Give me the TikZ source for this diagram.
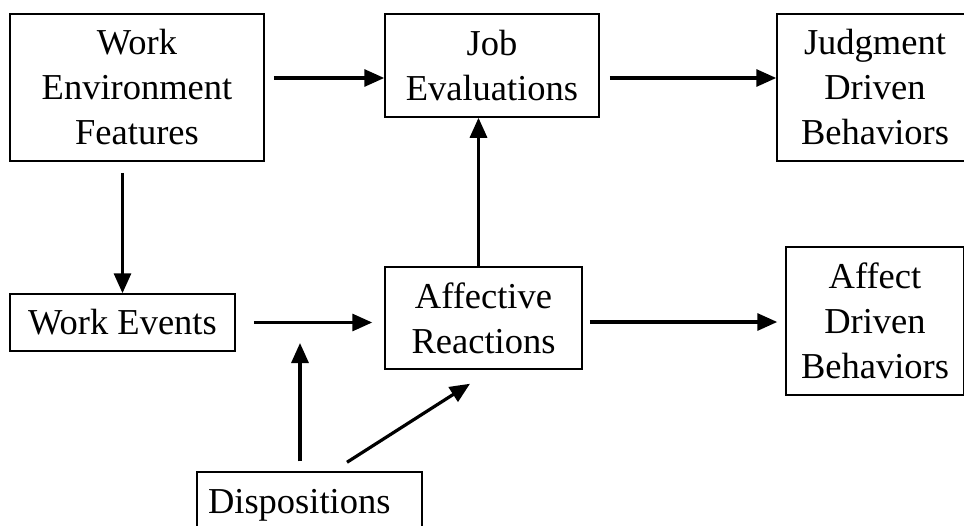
\documentclass[tikz,border=0pt]{standalone}
\usepackage{fontspec}
\setmainfont{Liberation Serif}
\usetikzlibrary{arrows.meta, calc}

\begin{document}
\begin{tikzpicture}[x=1pt, y=-1pt,
box/.style={draw, line width=1.5pt, inner sep=0pt, align=center, font=\fontsize{36.5}{45}\selectfont},
arr/.style={line width=3.2pt, -{Triangle[length=20pt,width=17pt]}}]
\useasboundingbox (0,0) rectangle (964,525);

%The boxes:
\node[box, minimum width=254pt, minimum height=147pt] (wef) at (137,87.5) {Work\\Environment\\Features};
\node[box, minimum width=214pt, minimum height=103pt] (je) at (492,65.5) {Job\\Evaluations};
\node[box, minimum width=196pt, minimum height=147pt] (jdb) at (875,87.5) {Judgment\\Driven\\Behaviors};
\node[box, minimum width=225pt, minimum height=57pt] (we) at (122.5,322.5) {Work Events};
\node[box, minimum width=197pt, minimum height=102pt] (ar) at (483.5,318) {Affective\\Reactions};
\node[box, minimum width=178pt, minimum height=148pt] (adb) at (875,321) {Affect\\Driven\\Behaviors};
\node[box, text width=203pt, align=left, inner xsep=11pt, minimum height=67pt] (disp) at (309.5,505.5) {Dispositions};
\coordinate (mod) at (300,343);

%The arrows:
\draw[arr] ([xshift=9pt, yshift=9.5pt]wef.east) -- ([yshift=-12.5pt]je.west);
\draw[arr] ([xshift=10pt, yshift=-12.5pt]je.east) -- ([yshift=9.5pt]jdb.west);
\draw[arr] ($(we.north |- wef.south)+(0,11)$) -- (we.north);
\draw[arr] ([xshift=18pt]we.east) -- ($(ar.west |- we.east)+(-12,0)$);
\draw[arr] ([xshift=-5pt]ar.north) coordinate (arn) -- (arn |- je.south);
\draw[arr] ([xshift=7pt, yshift=-4pt]ar.east) -- ([xshift=-8pt, yshift=-1pt]adb.west);
\draw[arr] (mod |- disp.north) ++(0,-10) -- (mod);
\draw[arr] ([xshift=37.5pt, yshift=9pt]disp.north) -- ([xshift=-13.5pt, yshift=-14pt]ar.south);

\end{tikzpicture}
\end{document}
